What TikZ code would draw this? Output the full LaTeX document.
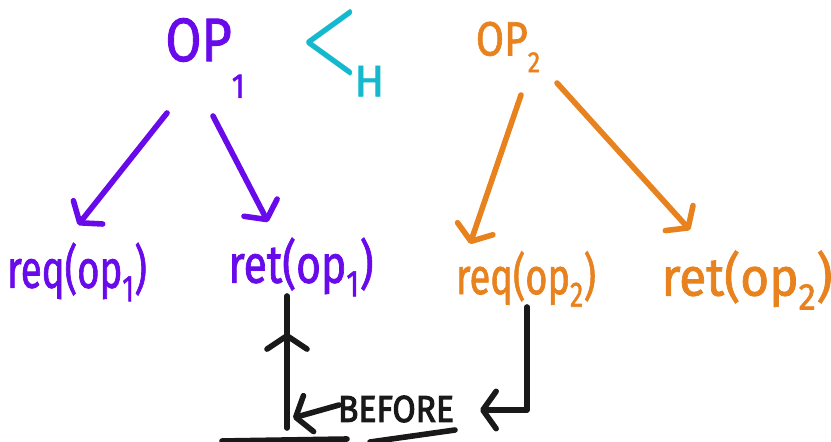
\documentclass[tikz,border=0pt]{standalone}
\usepackage{fontspec}
\setmainfont{Fira Sans}
\newfontfamily\hwfont{Fira Sans}[FakeBold=1.6]
\newfontfamily\hwheavy{Fira Sans}[FakeBold=3]
\usetikzlibrary{arrows.meta,calc,decorations.markings}
\definecolor{hpurple}{RGB}{105,10,235}
\definecolor{horange}{RGB}{232,130,30}
\definecolor{hcyan}{RGB}{20,185,205}
\definecolor{hblack}{RGB}{25,25,25}
\newcommand{\hwtext}[3]{\scalebox{#1}[1]{\fontsize{#2}{#2}\hwfont #3}}
\tikzset{
  lbl/.style={inner sep=0pt, outer sep=0pt, anchor=center},
  pen/.style={line width=4.2pt, line cap=round, line join=round},
  tip/.style={-{Straight Barb[length=10pt,width=28pt,line cap=round,line join=round]}},
  midtip/.style={postaction={decorate}, decoration={markings, mark=at position #1 with {\arrow{Straight Barb[length=10pt,width=30pt,line cap=round,line join=round]}}}}
}
\begin{document}
\begin{tikzpicture}[x=0.75pt,y=-0.75pt]
\useasboundingbox (0,0) rectangle (831,442);
% top labels
\node[lbl, text=hpurple] (op1) at (205,58) {\hwtext{0.85}{46pt}{OP\raisebox{-0.6em}{\fontsize{26pt}{26pt}\hwfont 1}}};
\node[lbl, text=hcyan, anchor=west] (lessH) at (300,53) {\scalebox{4.9}[7.4]{\boldmath$<$}\kern-3pt\raisebox{-21.6pt}{\fontsize{33pt}{33pt}\hwfont H}};
\node[lbl, text=horange] (op2) at (508,47) {\hwtext{0.85}{36pt}{OP\raisebox{-0.35em}{\fontsize{22pt}{22pt}\hwfont 2}}};
% bottom labels
\node[lbl, text=hpurple] (req1) at (77,272) {\hwtext{0.72}{40pt}{req(op\textsubscript{1})}};
\node[lbl, text=hpurple] (ret1) at (301,267) {\hwtext{0.8}{40pt}{ret(op\textsubscript{1})}};
\node[lbl, text=horange] (req2) at (526,279) {\hwtext{0.75}{38pt}{req(op\textsubscript{2})}};
\node[lbl, text=horange] (ret2) at (747,280) {\hwtext{0.93}{40pt}{ret(op\textsubscript{2})}};
\node[lbl, text=hblack] (before) at (396,409) {\scalebox{0.9}[1]{\fontsize{28pt}{28pt}\hwheavy BEFORE}};
% purple arrows
\draw[pen, hpurple, tip] ($(op1)+(-38,55)$) -- ($(req1)+(1,-47)$);
\draw[pen, hpurple, tip] ($(op1)+(8,58)$) -- ($(ret1)+(-33,-45)$);
% orange arrows
\draw[pen, horange, tip] ($(op2)+(13,48)$) -- ($(req2)+(-56,-35)$);
\draw[pen, horange, tip] ($(op2)+(49,36)$) -- ($(ret2)+(-57,-50)$);
% black connectors
\coordinate (c1) at ($(before)+(-109,19)$);
\draw[pen, hblack, tip] ($(req2)+(1,28)$) |- ($(before)+(84,1)$);
\draw[pen, hblack, tip] ($(before)+(-57,-4)$) -- ($(c1)+(6,-10)$);
\draw[pen, hblack, midtip=0.72] (c1) -- ($(ret1)+(-14,29)$);
% underline strokes
\draw[pen, hblack] ($(before)+(-174,32)$) -- ($(before)+(-49,30)$);
\draw[pen, hblack] ($(before)+(-26,33)$) -- ($(before)+(59,21)$);
\end{tikzpicture}
\end{document}
